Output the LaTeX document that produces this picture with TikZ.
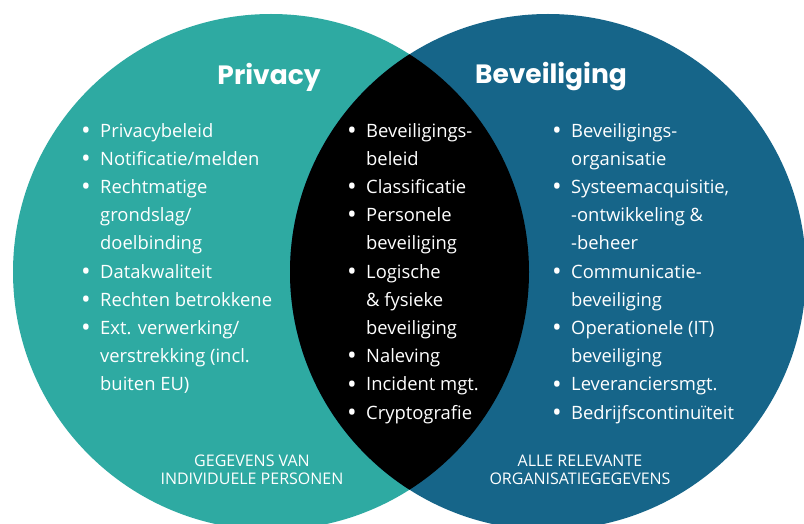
\documentclass[tikz,border=0pt]{standalone}
\usepackage{fontspec}
\setmainfont{Open Sans}
\newfontfamily\titlefont{Poppins}
\usepackage{tikz}
\usetikzlibrary{positioning}

\definecolor{privteal}{RGB}{46,170,162}
\definecolor{secblue}{RGB}{22,101,137}

\newcommand{\bul}{\makebox[19pt][l]{\raisebox{-0.12em}{\scalebox{1.4}{\textbullet}}}}
\newcommand{\ind}{\hspace*{19pt}}

\begin{document}
\begin{tikzpicture}[
    x=1pt,
    y=-1pt,
    title/.style={
		text=white,
		inner sep=0pt,
		font=\titlefont\bfseries\fontsize{26.5}{30}\selectfont
	},
	items/.style={
		text=white,
		align=left,
		anchor=north west,
		inner sep=0pt,
		font=\fontsize{18.4}{28.2}\selectfont
	},
	footer/.style={
		text=white,
		align=center,
		inner sep=0pt,
		font=\fontsize{16}{18}\selectfont
	}
  ]

\useasboundingbox (0,0) rectangle (804,524);

% // The circles
\fill [privteal] (271,272) circle (258pt);
\fill [secblue] (548,272) circle (258pt);
\begin{scope}
 \clip (271,272) circle (258pt);
 \fill [black] (548,272) circle (258pt);
\end{scope}

% // Titles
\node [title] (privacy) at (269,77) {Privacy};
\node [title] (beveiliging) at (551,77) {Beveiliging};

% // The lists
\node [items] (privlist) at (81,123)
 {%
 \bul Privacybeleid\\
 \bul Notificatie/melden\\
 \bul Rechtmatige\\
 \ind grondslag/\\
 \ind doelbinding\\
 \bul Datakwaliteit\\
 \bul Rechten betrokkene\\
 \bul Ext. verwerking/\\
 \ind verstrekking (incl.\\
 \ind buiten EU)
 };

\node [items] (beidelist) at (347,123)
 {%
 \bul Beveiligings-\\
 \ind beleid\\
 \bul Classificatie\\
 \bul Personele\\
 \ind beveiliging\\
 \bul Logische\\
 \ind \& fysieke\\
 \ind beveiliging\\
 \bul Naleving\\
 \bul Incident mgt.\\
 \bul Cryptografie
 };

\node [items] (beveillist) at (552,123)
 {%
 \bul Beveiligings-\\
 \ind organisatie\\
 \bul Systeemacquisitie,\\
 \ind -ontwikkeling \&\\
 \ind -beheer\\
 \bul Communicatie-\\
 \ind beveiliging\\
 \bul Operationele (IT)\\
 \ind beveiliging\\
 \bul Leveranciersmgt.\\
 \bul Bedrijfscontinuïteit
 };

% // Footers
\node [footer] (personen) at (252,470) {GEGEVENS VAN\\INDIVIDUELE PERSONEN};
\node [footer] (organisatie) at (580,470) {ALLE RELEVANTE\\ORGANISATIEGEGEVENS};

\end{tikzpicture}
\end{document}
